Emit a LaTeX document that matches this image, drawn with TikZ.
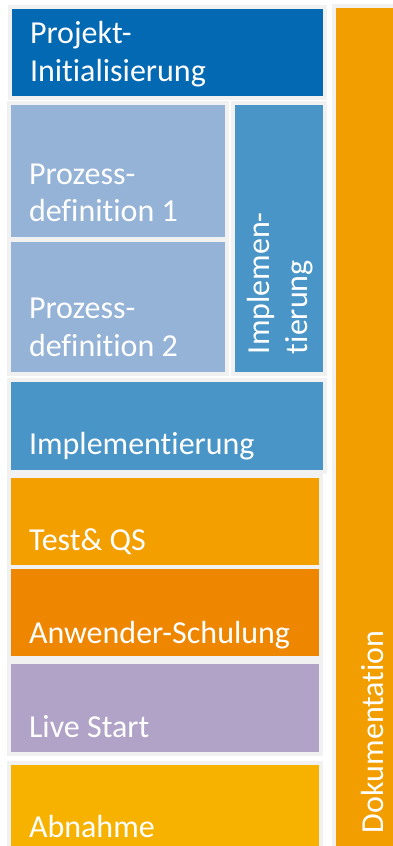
\documentclass[tikz,border=0pt]{standalone}
\usepackage{fontspec}
\setmainfont{Carlito}[Ligatures={NoCommon}]
\definecolor{frame}{HTML}{F1F1F1}
\definecolor{cproj}{HTML}{0369B2}
\definecolor{cproz}{HTML}{95B3D7}
\definecolor{cimpl}{HTML}{4A95C7}
\definecolor{ctest}{HTML}{F39F00}
\definecolor{canw}{HTML}{EE8600}
\definecolor{clive}{HTML}{B1A2C7}
\definecolor{cabn}{HTML}{F7B200}
\definecolor{cdoc}{HTML}{F29E00}
\begin{document}
\begin{tikzpicture}[x=1pt,y=-1pt,
  box/.style={draw=frame, line width=4pt, inner sep=0pt, outer sep=0pt, rectangle},
  lbl/.style={text=white, inner sep=0pt, outer sep=0pt, anchor=base west, align=left,
    font=\fontsize{32}{37.5}\selectfont}]
\useasboundingbox (0,0) rectangle (393,846);
\clip (0,0) rectangle (393,846);
\fill[white] (0,0) rectangle (393,846);
% boxes (minimum size = coloured area + 4)
\node[box, fill=cproj, minimum width=315pt, minimum height=91pt] (proj) at (167.5,52.5) {};
\node[box, fill=cproz, minimum width=218pt, minimum height=136pt] (pd1) at (118,171) {};
\node[box, fill=cproz, minimum width=218pt, minimum height=134pt] (pd2) at (118,307) {};
\node[box, fill=cimpl, minimum width=92pt, minimum height=271pt] (implv) at (279,238.5) {};
\node[box, fill=cimpl, minimum width=316pt, minimum height=92pt] (implh) at (167,426) {};
\node[box, fill=ctest, minimum width=312pt, minimum height=91pt] (test) at (165,521.5) {};
\node[box, fill=canw, minimum width=312pt, minimum height=91pt] (anw) at (165,612.5) {};
\node[box, fill=clive, minimum width=312pt, minimum height=92pt] (live) at (165,708) {};
\node[box, fill=cabn, minimum width=312pt, minimum height=89pt] (abn) at (165,807.5) {};
\node[box, fill=cdoc, minimum width=68pt, minimum height=846pt] (doc) at (368,429) {};
% labels (base = baseline of last line)
\node[lbl] (tproj) at (30,81) {Projekt-\\Initialisierung};
\node[lbl] (tpd1) at (29,221.5) {Prozess-\\definition 1};
\node[lbl] (tpd2) at (29,356) {Prozess-\\definition 2};
\node[lbl, rotate=90] (timplv) at (307,354) {Implemen-\\tierung};
\node[lbl] (timplh) at (29,454) {Implementierung};
\node[lbl] (ttest) at (29,550) {Test\& QS};
\node[lbl] (tanw) at (29,643) {Anwender-Schulung};
\node[lbl] (tlive) at (29,737) {Live Start};
\node[lbl] (tabn) at (29,837) {Abnahme};
\node[lbl, rotate=90] (tdoc) at (383,833) {Dokumentation};
\end{tikzpicture}
\end{document}
